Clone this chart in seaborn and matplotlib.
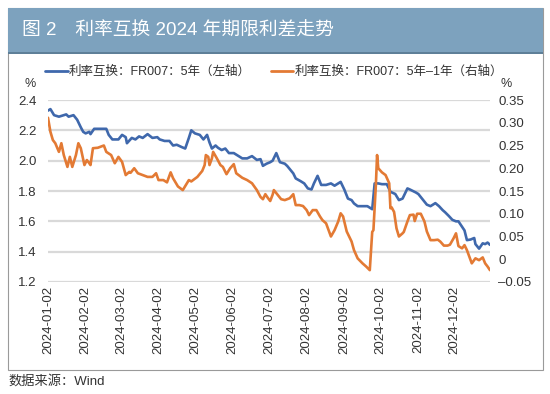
import pandas as pd
import seaborn as sns
import matplotlib.pyplot as plt
import matplotlib.dates as mdates
from matplotlib.patches import Rectangle
from matplotlib.lines import Line2D

# 利率互换：FR007：5年（左轴）
blue_dates = [
    '2024-01-02', '2024-01-04', '2024-01-07', '2024-01-11', '2024-01-17', '2024-01-19',
    '2024-01-23', '2024-01-26', '2024-01-29', '2024-01-31', '2024-02-02', '2024-02-05',
    '2024-02-06', '2024-02-09', '2024-02-14', '2024-02-19', '2024-02-21', '2024-02-24',
    '2024-02-29', '2024-03-03', '2024-03-06', '2024-03-07', '2024-03-11', '2024-03-14',
    '2024-03-17', '2024-03-20', '2024-03-24', '2024-03-28', '2024-04-01', '2024-04-03',
    '2024-04-07', '2024-04-11', '2024-04-14', '2024-04-17', '2024-04-21', '2024-04-24',
    '2024-04-27', '2024-04-29', '2024-05-02', '2024-05-06', '2024-05-09', '2024-05-12',
    '2024-05-14', '2024-05-16', '2024-05-19', '2024-05-21', '2024-05-24', '2024-05-27',
    '2024-05-30', '2024-06-03', '2024-06-05', '2024-06-10', '2024-06-14', '2024-06-18',
    '2024-06-22', '2024-06-25', '2024-06-27', '2024-06-30', '2024-07-03', '2024-07-05',
    '2024-07-08', '2024-07-11', '2024-07-15', '2024-07-17', '2024-07-22', '2024-07-24',
    '2024-07-28', '2024-07-31', '2024-08-03', '2024-08-06', '2024-08-08', '2024-08-11',
    '2024-08-14', '2024-08-18', '2024-08-22', '2024-08-25', '2024-08-28', '2024-08-30',
    '2024-09-02', '2024-09-05', '2024-09-08', '2024-09-10', '2024-09-13', '2024-09-17',
    '2024-09-21', '2024-09-25', '2024-09-27', '2024-09-30', '2024-10-03', '2024-10-07',
    '2024-10-10', '2024-10-14', '2024-10-17', '2024-10-20', '2024-10-24', '2024-10-26',
    '2024-10-31', '2024-11-02', '2024-11-07', '2024-11-09', '2024-11-12', '2024-11-16',
    '2024-11-19', '2024-11-22', '2024-11-24', '2024-11-27', '2024-11-30', '2024-12-03',
    '2024-12-05', '2024-12-08', '2024-12-10', '2024-12-12', '2024-12-15', '2024-12-18',
    '2024-12-19', '2024-12-22', '2024-12-25', '2024-12-27', '2024-12-29', '2024-12-31',
]
blue_vals = [
    2.33, 2.34, 2.30, 2.29, 2.305, 2.29,
    2.30, 2.27, 2.22, 2.19, 2.18, 2.19,
    2.175, 2.21, 2.21, 2.21, 2.17, 2.14,
    2.14, 2.17, 2.155, 2.115, 2.15, 2.14,
    2.16, 2.15, 2.175, 2.15, 2.155, 2.14,
    2.13, 2.13, 2.10, 2.105, 2.09, 2.08,
    2.15, 2.20, 2.18, 2.17, 2.14, 2.17,
    2.12, 2.08, 2.10, 2.085, 2.07, 2.08,
    2.05, 2.05, 2.04, 2.015, 2.015, 2.03,
    2.005, 2.01, 1.966, 1.98, 1.99, 2.00,
    2.05, 1.99, 1.98, 1.965, 1.916, 1.883,
    1.865, 1.85, 1.817, 1.81, 1.85, 1.90,
    1.84, 1.84, 1.85, 1.835, 1.85, 1.86,
    1.81, 1.75, 1.74, 1.718, 1.70, 1.70,
    1.70, 1.68, 1.85, 1.85, 1.845, 1.845,
    1.795, 1.78, 1.74, 1.75, 1.817, 1.81,
    1.79, 1.78, 1.73, 1.71, 1.70, 1.72,
    1.70, 1.674, 1.66, 1.636, 1.61, 1.60,
    1.60, 1.564, 1.54, 1.476, 1.48, 1.49,
    1.45, 1.42, 1.455, 1.45, 1.46, 1.445,
]

# 利率互换：FR007：5年-1年（右轴）
orange_dates = [
    '2024-01-02', '2024-01-04', '2024-01-06', '2024-01-08', '2024-01-11', '2024-01-13',
    '2024-01-15', '2024-01-18', '2024-01-20', '2024-01-22', '2024-01-25', '2024-01-27',
    '2024-01-29', '2024-02-01', '2024-02-03', '2024-02-05', '2024-02-06', '2024-02-08',
    '2024-02-12', '2024-02-17', '2024-02-19', '2024-02-23', '2024-02-26', '2024-02-29',
    '2024-03-03', '2024-03-06', '2024-03-09', '2024-03-10', '2024-03-13', '2024-03-16',
    '2024-03-20', '2024-03-24', '2024-03-28', '2024-03-31', '2024-04-02', '2024-04-06',
    '2024-04-09', '2024-04-12', '2024-04-14', '2024-04-18', '2024-04-22', '2024-04-25',
    '2024-04-27', '2024-04-29', '2024-05-04', '2024-05-08', '2024-05-10', '2024-05-11',
    '2024-05-13', '2024-05-14', '2024-05-16', '2024-05-17', '2024-05-20', '2024-05-23',
    '2024-05-25', '2024-05-28', '2024-05-31', '2024-06-03', '2024-06-05', '2024-06-10',
    '2024-06-14', '2024-06-18', '2024-06-22', '2024-06-25', '2024-06-27', '2024-06-29',
    '2024-07-01', '2024-07-03', '2024-07-05', '2024-07-06', '2024-07-09', '2024-07-12',
    '2024-07-15', '2024-07-19', '2024-07-22', '2024-07-24', '2024-07-27', '2024-07-30',
    '2024-08-02', '2024-08-04', '2024-08-07', '2024-08-10', '2024-08-13', '2024-08-15',
    '2024-08-18', '2024-08-22', '2024-08-25', '2024-08-28', '2024-08-30', '2024-09-01',
    '2024-09-04', '2024-09-06', '2024-09-08', '2024-09-10', '2024-09-13', '2024-09-17',
    '2024-09-20', '2024-09-23', '2024-09-24', '2024-09-25', '2024-09-26', '2024-09-28',
    '2024-09-29', '2024-09-30', '2024-10-03', '2024-10-06', '2024-10-09', '2024-10-10',
    '2024-10-11', '2024-10-13', '2024-10-15', '2024-10-17', '2024-10-20', '2024-10-21',
    '2024-10-24', '2024-10-26', '2024-10-29', '2024-10-30', '2024-11-01', '2024-11-04',
    '2024-11-07', '2024-11-09', '2024-11-12', '2024-11-15', '2024-11-18', '2024-11-20',
    '2024-11-23', '2024-11-26', '2024-11-28', '2024-12-01', '2024-12-03', '2024-12-05',
    '2024-12-08', '2024-12-10', '2024-12-12', '2024-12-16', '2024-12-19', '2024-12-22',
    '2024-12-25', '2024-12-27', '2024-12-29', '2024-12-31',
]
orange_vals = [
    0.311, 0.280, 0.262, 0.255, 0.236, 0.255,
    0.229, 0.203, 0.225, 0.203, 0.229, 0.255,
    0.244, 0.207, 0.218, 0.211, 0.207, 0.244,
    0.245, 0.250, 0.236, 0.229, 0.211, 0.225,
    0.214, 0.185, 0.192, 0.190, 0.200, 0.189,
    0.185, 0.181, 0.181, 0.189, 0.174, 0.174,
    0.169, 0.191, 0.178, 0.160, 0.152, 0.165,
    0.174, 0.171, 0.181, 0.194, 0.207, 0.229,
    0.225, 0.207, 0.222, 0.236, 0.222, 0.207,
    0.203, 0.187, 0.200, 0.209, 0.189, 0.179,
    0.174, 0.167, 0.152, 0.137, 0.132, 0.143,
    0.135, 0.128, 0.142, 0.152, 0.142, 0.132,
    0.130, 0.134, 0.143, 0.119, 0.119, 0.117,
    0.108, 0.097, 0.108, 0.108, 0.094, 0.086,
    0.079, 0.050, 0.064, 0.083, 0.101, 0.094,
    0.061, 0.050, 0.039, 0.020, 0.002, -0.009,
    -0.016, -0.024, 0.017, 0.060, 0.064, 0.163,
    0.229, 0.200, 0.191, 0.185, 0.167, 0.112,
    0.114, 0.104, 0.068, 0.050, 0.057, 0.060,
    0.083, 0.097, 0.098, 0.084, 0.100, 0.100,
    0.083, 0.061, 0.042, 0.042, 0.043, 0.039,
    0.030, 0.030, 0.032, 0.046, 0.057, 0.029,
    0.024, 0.031, 0.020, -0.009, 0.002, -0.002,
    0.004, -0.009, -0.016, -0.024,
]

left_ticks = [1.2, 1.4, 1.6, 1.8, 2.0, 2.2, 2.4]
left_labels = ['1.2', '1.4', '1.6', '1.8', '2.0', '2.2', '2.4']
right_ticks = [-0.05, 0, 0.05, 0.10, 0.15, 0.20, 0.25, 0.30, 0.35]
right_labels = ['\u20130.05', '0', '0.05', '0.10', '0.15', '0.20', '0.25', '0.30', '0.35']
x_ticks = pd.date_range('2024-01-01', '2024-12-01', freq='MS') + pd.Timedelta(days=1)

title = '图 2　利率互换 2024 年期限利差走势'
name_blue = '利率互换：FR007：5年（左轴）'
name_orange = '利率互换：FR007：5年\u20131年（右轴）'
source = '数据来源：Wind'

df_blue = pd.DataFrame({'date': pd.to_datetime(blue_dates), 'value': blue_vals})
df_orange = pd.DataFrame({'date': pd.to_datetime(orange_dates), 'value': orange_vals})

sns.set_style('white')
plt.rcParams['font.family'] = ['Liberation Sans', 'Noto Sans CJK SC']

c_blue = '#3F68AC'
c_orange = '#E37A34'
c_text = '#333333'

W, H = 550, 394
fig = plt.figure(figsize=(W / 100, H / 100), dpi=100)

# frame and header band
fig.patches.append(Rectangle((8 / W, 1 - 370 / H), 535 / W, 362 / H, transform=fig.transFigure,
                             fill=False, edgecolor='#9A9A9A', linewidth=0.8))
fig.patches.append(Rectangle((8 / W, 1 - 52 / H), 535 / W, 44 / H, transform=fig.transFigure,
                             facecolor='#7DA2BE', edgecolor='none'))
fig.patches.append(Rectangle((8 / W, 1 - 53.5 / H), 535 / W, 1.5 / H, transform=fig.transFigure,
                             facecolor='#5E7F98', edgecolor='none'))
fig.text(22 / W, 1 - 31 / H, title, color='white', fontsize=13.5, va='center', ha='left')

ax = fig.add_axes([48 / W, 1 - 282 / H, 442 / W, 182 / H])
ax2 = ax.twinx()

sns.lineplot(data=df_blue, x='date', y='value', ax=ax, color=c_blue, linewidth=1.9)
sns.lineplot(data=df_orange, x='date', y='value', ax=ax2, color=c_orange, linewidth=1.9)

ax.set_ylim(1.2, 2.4)
ax2.set_ylim(-0.05, 0.35)
ax.set_xlim(pd.Timestamp('2024-01-02'), pd.Timestamp('2024-12-31'))
ax.set_yticks(left_ticks)
ax.set_yticklabels(left_labels)
ax2.set_yticks(right_ticks)
ax2.set_yticklabels(right_labels)
ax.set_xticks(x_ticks)
ax.xaxis.set_major_formatter(mdates.DateFormatter('%Y-%m-%d'))
ax.tick_params(axis='x', rotation=90, length=0, labelsize=9.5, colors=c_text, pad=3)
ax.tick_params(axis='y', length=0, labelsize=9.5, colors=c_text, pad=8)
ax2.tick_params(axis='y', length=0, labelsize=9.5, colors=c_text, pad=6)
ax.grid(axis='y', color='#D9D9D9', linewidth=1.6)
ax.grid(axis='x', visible=False)
ax2.grid(False)
ax.set_xlabel('')
ax.set_ylabel('')
ax2.set_ylabel('')
for a in (ax, ax2):
    for s in a.spines.values():
        s.set_visible(False)

fig.text(30 / W, 1 - 84 / H, '%', fontsize=9, color=c_text, ha='center', va='center')
fig.text(506 / W, 1 - 84 / H, '%', fontsize=9, color=c_text, ha='center', va='center')

handles = [Line2D([], [], color=c_blue, linewidth=2), Line2D([], [], color=c_orange, linewidth=2)]
fig.legend(handles, [name_blue, name_orange], loc='center', bbox_to_anchor=(274 / W, 1 - 72 / H),
           ncol=2, frameon=False, fontsize=9, handlelength=1.8, handletextpad=0.1,
           columnspacing=1.6, labelcolor=c_text)

fig.text(8 / W, 1 - 381 / H, source, fontsize=9.5, color=c_text, ha='left', va='center')

fig.savefig('out.png', dpi=100)
